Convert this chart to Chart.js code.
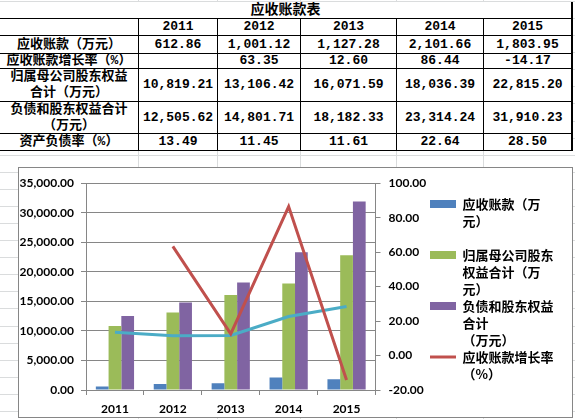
<!DOCTYPE html>
<html>
<head>
<meta charset="utf-8">
<script src="https://cdn.jsdelivr.net/npm/chart.js@4.4.1/dist/chart.umd.min.js"></script>
<style>
html, body { margin: 0; padding: 0; }
body {
    width: 575px; height: 419px; overflow: hidden; position: relative;
    background-color: #fff;
    background-image:
        linear-gradient(to right, transparent 138px, #dadcdd 138px, #dadcdd 139px, transparent 139px),
        linear-gradient(to right, transparent 217px, #dadcdd 217px, #dadcdd 218px, transparent 218px),
        linear-gradient(to right, transparent 300px, #dadcdd 300px, #dadcdd 301px, transparent 301px),
        linear-gradient(to right, transparent 396px, #dadcdd 396px, #dadcdd 397px, transparent 397px),
        linear-gradient(to right, transparent 483px, #dadcdd 483px, #dadcdd 484px, transparent 484px),
        repeating-linear-gradient(to bottom, #dadcdd 0, #dadcdd 1px, transparent 1px, transparent 17.08px);
    background-size: 100% 100%, 100% 100%, 100% 100%, 100% 100%, 100% 100%, 100% 100%;
    background-position: 0 0, 0 0, 0 0, 0 0, 0 0, 0 1px;
}
#sheet {
    position: absolute; left: 0; top: 2px;
    display: grid;
    grid-template-columns: 139px 79px 83px 96px 87px 89px;
    grid-template-rows: 17px 17px 18px 15px 33px 32px 17px;
    background: #fff;
    font: bold 13px "Liberation Mono", "Noto Sans CJK SC", monospace;
    color: #000;
}
#sheet div {
    box-sizing: border-box;
    border-right: 1px solid #000;
    border-bottom: 1px solid #000;
    display: flex; align-items: center; justify-content: center;
    text-align: center; line-height: 16px; white-space: nowrap;
}
#sheet div.last { border-right-width: 2px; }
#sheet div.title { grid-column: 1 / -1; border-right-width: 2px; font-size: 14px; }
#box {
    position: absolute; left: 18px; top: 167px;
    width: 553px; height: 249px;
    border: 1px solid #868686; background: #fff;
}
canvas { display: block; }
</style>
</head>
<body>
<div id="sheet"></div>
<div id="box"><canvas id="chart" width="553" height="249"></canvas></div>
<script>
const tableTitle = '应收账款表'
const years = ['2011', '2012', '2013', '2014', '2015']
const receivables = [612.86, 1001.12, 1127.28, 2101.66, 1803.95]
const receivableGrowth = [null, 63.35, 12.60, 86.44, -14.17]
const parentEquity = [10819.21, 13106.42, 16071.59, 18036.39, 22815.20]
const liabEquity = [12505.62, 14801.71, 18182.33, 23314.24, 31910.23]
const debtRatio = [13.49, 11.45, 11.61, 22.64, 28.50]

const rowNames = ['应收账款（万元）', '应收账款增长率（%）', '归属母公司股东权益<br>合计（万元）', '负债和股东权益合计<br>（万元）', '资产负债率（%）']
const legendText = [
    ['应收账款（万', '元）', ''],
    ['归属母公司股东', '权益合计（万', '元）'],
    ['负债和股东权益', '合计', '（万元）'],
    ['应收账款增长率', '（%）', '']
]

function fmt(v) {
    if (v === null) return ''
    return v.toLocaleString('en-US', {minimumFractionDigits: 2, maximumFractionDigits: 2})
}

// le tableau au-dessus du graphe
const sheet = document.getElementById('sheet')
let html = `<div class="title">${tableTitle}</div><div></div>`
years.forEach((y, i) => {
    html += `<div${i == years.length - 1 ? ' class="last"' : ''}>${y}</div>`
})
const rows = [receivables, receivableGrowth, parentEquity, liabEquity, debtRatio]
rows.forEach((values, r) => {
    html += `<div>${rowNames[r]}</div>`
    values.forEach((v, i) => {
        html += `<div${i == values.length - 1 ? ' class="last"' : ''}>${fmt(v)}</div>`
    })
})
sheet.innerHTML = html

const grey = '#868686'
const tickFont = {family: 'Lato', size: 12, weight: 'bold'}

new Chart(document.getElementById('chart'), {
    type: 'bar',
    data: {
        labels: years,
        datasets: [
            {label: '应收账款（万元）', data: receivables, backgroundColor: '#4F81BD', yAxisID: 'y', order: 1},
            {label: '归属母公司股东权益合计（万元）', data: parentEquity, backgroundColor: '#9BBB59', yAxisID: 'y', order: 1},
            {label: '负债和股东权益合计（万元）', data: liabEquity, backgroundColor: '#8064A2', yAxisID: 'y', order: 1},
            {type: 'line', label: '应收账款增长率（%）', data: receivableGrowth, borderColor: '#C0504D', backgroundColor: '#C0504D',
                borderWidth: 3, pointRadius: 0, tension: 0, yAxisID: 'y1', order: 0},
            {type: 'line', label: '资产负债率（%）', data: debtRatio, borderColor: '#4BACC6', backgroundColor: '#4BACC6',
                borderWidth: 3, pointRadius: 0, tension: 0, yAxisID: 'y1', order: 0}
        ]
    },
    options: {
        responsive: false,
        animation: false,
        devicePixelRatio: 1,
        barPercentage: 1,
        categoryPercentage: 0.66,
        layout: {padding: {top: 14, right: 12, left: 0, bottom: 0}},
        plugins: {
            tooltip: {enabled: false},
            legend: {
                position: 'right',
                maxWidth: 130,
                labels: {
                    usePointStyle: true,
                    pointStyleWidth: 26,
                    boxWidth: 26,
                    boxHeight: 8,
                    padding: 0,
                    color: '#000',
                    font: {family: '"Noto Sans CJK SC"', size: 13, weight: 'bold', lineHeight: 17 / 13},
                    generateLabels: chart => chart.data.datasets.slice(0, 4).map((ds, i) => ({
                        text: legendText[i],
                        fillStyle: ds.backgroundColor,
                        strokeStyle: ds.type === 'line' ? ds.borderColor : ds.backgroundColor,
                        lineWidth: ds.type === 'line' ? 3 : 0,
                        pointStyle: ds.type === 'line' ? 'line' : 'rect',
                        fontColor: '#000',
                        hidden: false,
                        datasetIndex: i
                    }))
                }
            }
        },
        scales: {
            x: {
                grid: {drawOnChartArea: false, drawTicks: true, tickLength: 5, color: grey, offset: true},
                border: {color: grey},
                ticks: {font: tickFont, color: '#000', padding: 7},
                afterFit: s => { s.height = 27 }
            },
            y: {
                position: 'left',
                min: 0, max: 35000,
                ticks: {stepSize: 5000, font: tickFont, color: '#000', padding: 7, callback: v => fmt(v)},
                grid: {color: grey, tickLength: 5},
                border: {color: grey},
                afterFit: s => { s.width = 67 }
            },
            y1: {
                position: 'right',
                min: -20, max: 100,
                ticks: {stepSize: 20, font: tickFont, color: '#000', padding: 8, callback: v => v.toFixed(2)},
                grid: {drawOnChartArea: false, tickLength: 5, color: grey},
                border: {color: grey},
                afterFit: s => { s.width = 54.5 }
            }
        }
    }
})
</script>
</body>
</html>
